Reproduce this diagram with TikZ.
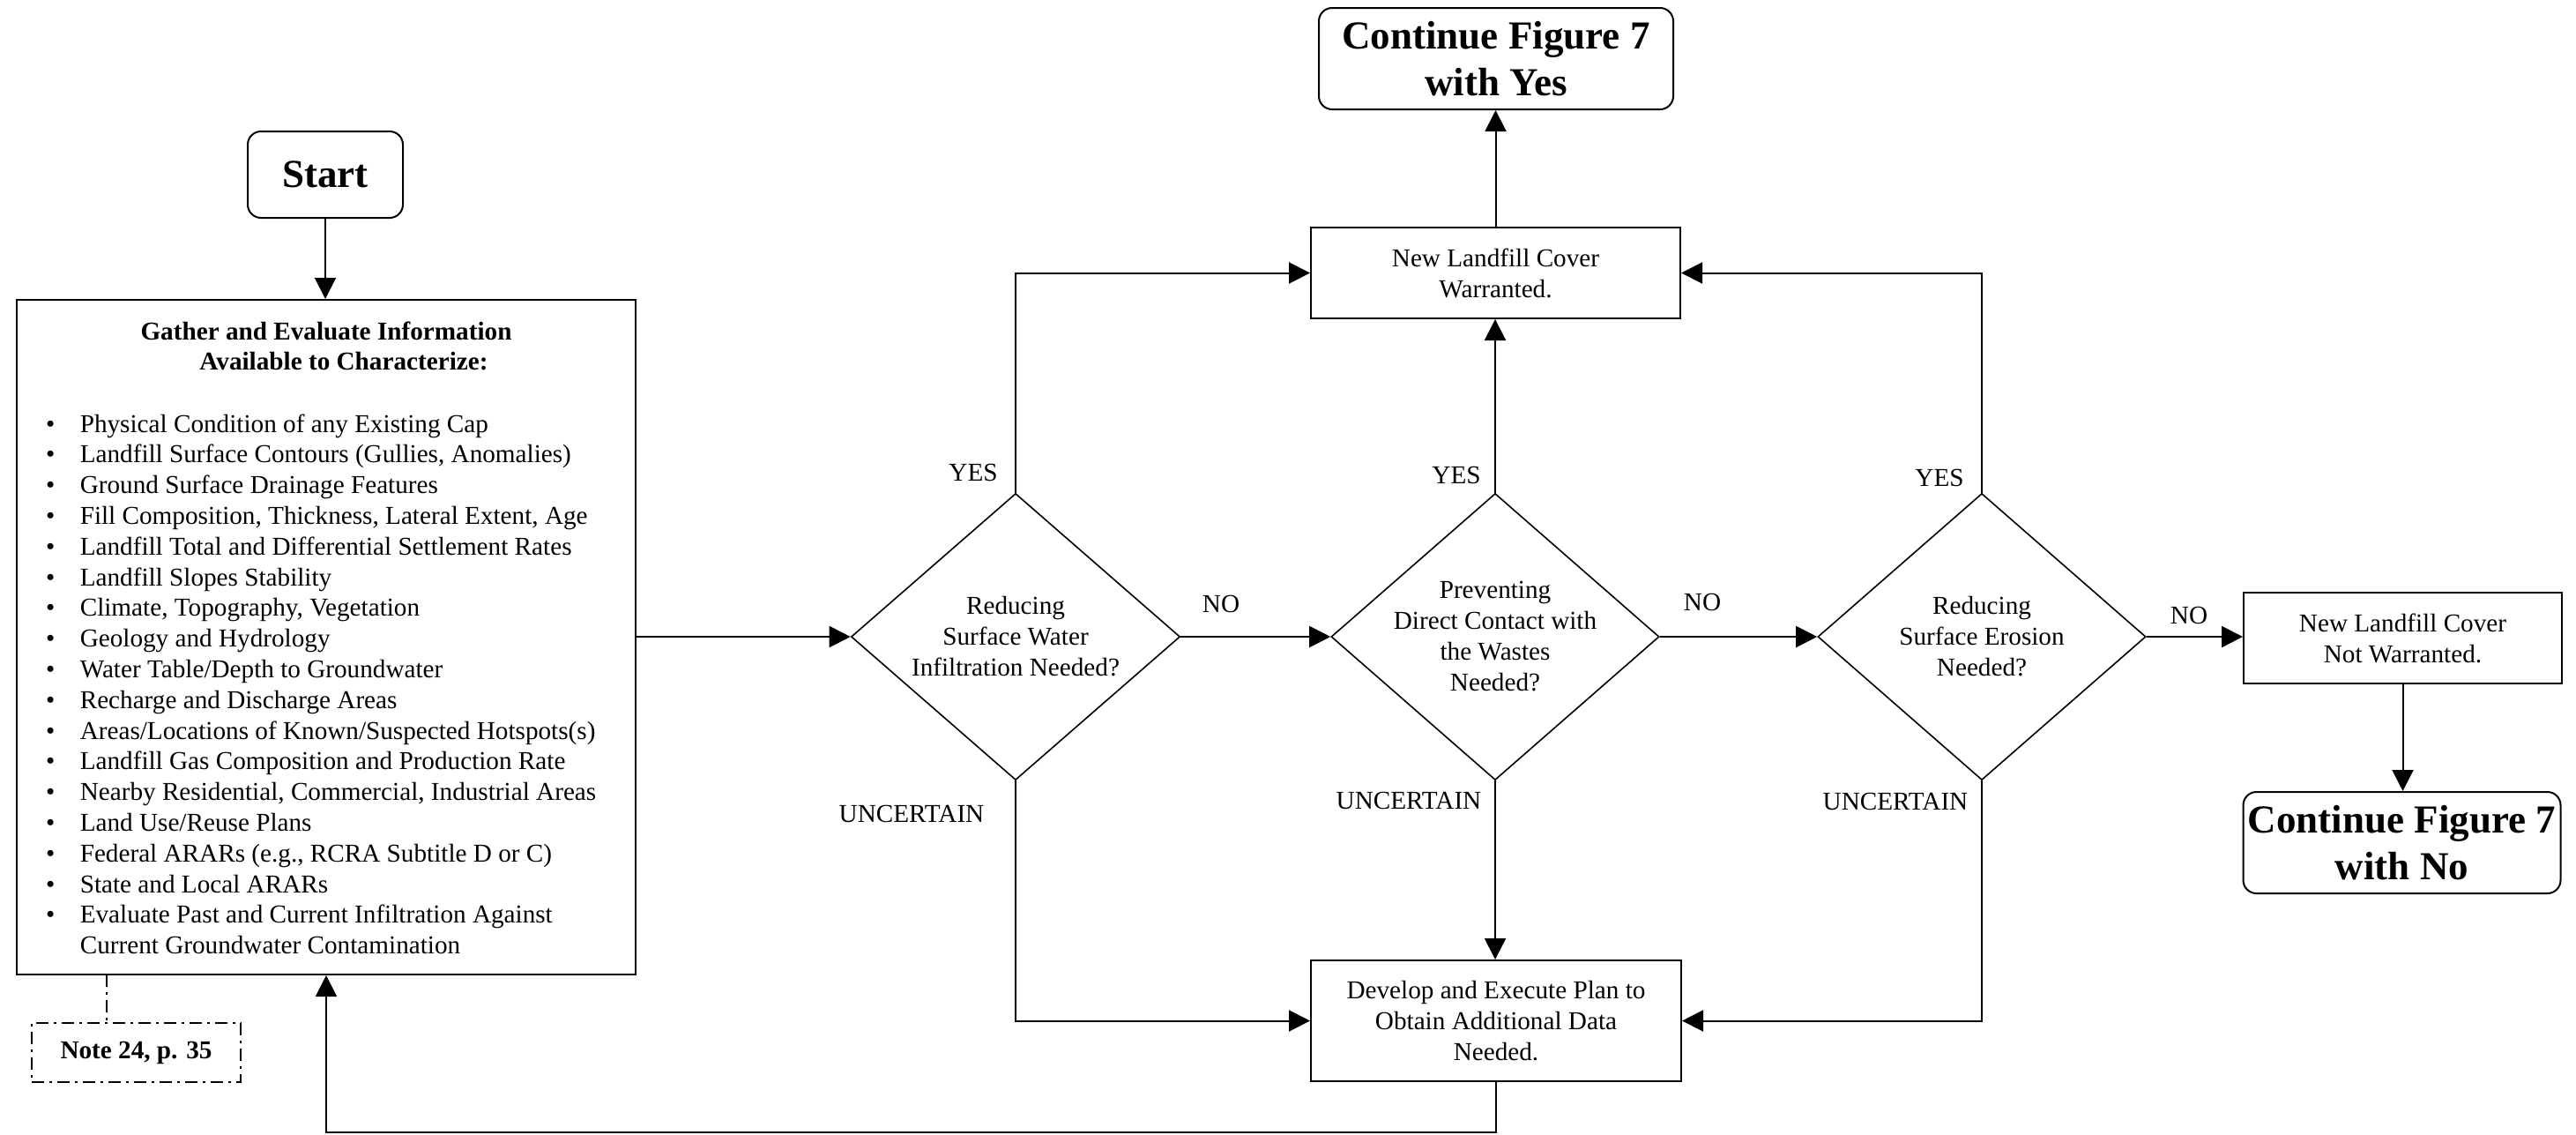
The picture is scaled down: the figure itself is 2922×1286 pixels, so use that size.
\documentclass[tikz,border=0pt]{standalone}
\usepackage{fontspec}
\setmainfont{Liberation Serif}
\usetikzlibrary{arrows.meta,shapes.geometric}
\newcommand\listdot{\makebox[38.6pt][l]{\textbullet}}

\begin{document}
\begin{tikzpicture}[x=1pt,y=-1pt,
  every node/.style={inner sep=0pt},
  txt/.style={font=\fontsize{29.2pt}{35pt}\selectfont},
  bigtxt/.style={font=\fontsize{45pt}{53pt}\selectfont\bfseries},
  box/.style={draw, line width=2pt, rectangle, align=center, txt},
  endbox/.style={draw, line width=2pt, rectangle, rounded corners=15pt, align=center, bigtxt},
  notebox/.style={draw, line width=2pt, rectangle, align=center, txt,
    dash pattern=on 14pt off 6pt on 3pt off 6pt},
  decision/.style={draw, line width=1.6pt, diamond, inner sep=0pt},
  flow/.style={line width=2pt, -{Triangle[length=24pt,width=24pt]}},
  notelink/.style={line width=2pt, dash pattern=on 14pt off 6pt on 3pt off 6pt},
  lbl/.style={txt, anchor=base},
]
\useasboundingbox (0,0) rectangle (2922,1286);

% start and information-gathering box
\node[endbox, minimum width=176pt, minimum height=98pt] (start) at (369,198) {Start};
\node[box, minimum width=702pt, minimum height=765pt] (gather) at (370,722.5) {};
\node[lbl] (gh1) at (370,385) {\bfseries Gather and Evaluate Information};
\node[lbl] (gh2) at (390,419) {\bfseries Available to Characterize:};
\node[font=\fontsize{29.2pt}{34.8pt}\selectfont, anchor=base west] (glist) at (52,490) {%
\begin{tabular}[t]{@{}l@{}l@{}}
\listdot & Physical Condition of any Existing Cap\\
\listdot & Landfill Surface Contours (Gullies, Anomalies)\\
\listdot & Ground Surface Drainage Features\\
\listdot & Fill Composition, Thickness, Lateral Extent, Age\\
\listdot & Landfill Total and Differential Settlement Rates\\
\listdot & Landfill Slopes Stability\\
\listdot & Climate, Topography, Vegetation\\
\listdot & Geology and Hydrology\\
\listdot & Water Table/Depth to Groundwater\\
\listdot & Recharge and Discharge Areas\\
\listdot & Areas/Locations of Known/Suspected Hotspots(s)\\
\listdot & Landfill Gas Composition and Production Rate\\
\listdot & Nearby Residential, Commercial, Industrial Areas\\
\listdot & Land Use/Reuse Plans\\
\listdot & Federal ARARs (e.g., RCRA Subtitle D or C)\\
\listdot & State and Local ARARs\\
\listdot & Evaluate Past and Current Infiltration Against\\
 & Current Groundwater Contamination
\end{tabular}};
\node[notebox, minimum width=237pt, minimum height=67pt] (note) at (154.5,1193.5) {\bfseries Note 24, p. 35};
\coordinate (notetap) at (121,1105);

% decisions
\node[decision, minimum width=373pt, minimum height=325pt,
  label={[txt,align=center]center:Reducing\\Surface Water\\Infiltration Needed?}] (d1) at (1152,722) {};
\node[decision, minimum width=372pt, minimum height=325pt,
  label={[txt,align=center]center:Preventing\\Direct Contact with\\the Wastes\\Needed?}] (d2) at (1696,722) {};
\node[decision, minimum width=372pt, minimum height=325pt,
  label={[txt,align=center]center:Reducing\\Surface Erosion\\Needed?}] (d3) at (2248,722) {};

% outcome boxes
\node[box, minimum width=419pt, minimum height=103pt] (covyes) at (1696.5,309.5) {New Landfill Cover\\Warranted.};
\node[endbox, minimum width=402pt, minimum height=115pt] (contyes) at (1697,66.5) {Continue Figure 7\\with Yes};
\node[box, minimum width=420pt, minimum height=137pt] (develop) at (1697,1157.5) {Develop and Execute Plan to\\Obtain Additional Data\\Needed.};
\node[box, minimum width=361pt, minimum height=103pt] (covno) at (2725.5,723.5) {New Landfill Cover\\Not Warranted.};
\node[endbox, minimum width=360pt, minimum height=115pt] (contno) at (2724.5,955.5) {Continue Figure 7\\with No};
\coordinate (loopbase) at (370,1284);

% connectors
\draw[flow] (start.south) -- (start.south |- gather.north);
\draw[notelink] (notetap) -- (notetap |- note.north);
\draw[flow] (gather.east |- d1.west) -- (d1.west);
\draw[flow] (d1.north) |- (covyes.west);
\draw[flow] (d1.south) |- (develop.west);
\draw[flow] (d1.east) -- (d2.west);
\draw[flow] (d2.north) -- (d2.north |- covyes.south);
\draw[flow] (d2.south) -- (d2.south |- develop.north);
\draw[flow] (d2.east) -- (d3.west);
\draw[flow] (d3.north) |- (covyes.east);
\draw[flow] (d3.south) |- (develop.east);
\draw[flow] (d3.east) -- (d3.east -| covno.west);
\draw[flow] (covno.south) -- (covno.south |- contno.north);
\draw[flow] (covyes.north) -- (covyes.north |- contyes.south);
\draw[flow] (develop.south) |- (loopbase) -- (gather.south);

% branch labels
\node[lbl] (yes1) at (1104,545) {YES};
\node[lbl] (no1) at (1385,694) {NO};
\node[lbl] (unc1) at (1034,932) {UNCERTAIN};
\node[lbl] (yes2) at (1652,548) {YES};
\node[lbl] (no2) at (1931,692) {NO};
\node[lbl] (unc2) at (1598,917) {UNCERTAIN};
\node[lbl] (yes3) at (2200,551) {YES};
\node[lbl] (no3) at (2483,707) {NO};
\node[lbl] (unc3) at (2150,918) {UNCERTAIN};
\end{tikzpicture}
\end{document}
